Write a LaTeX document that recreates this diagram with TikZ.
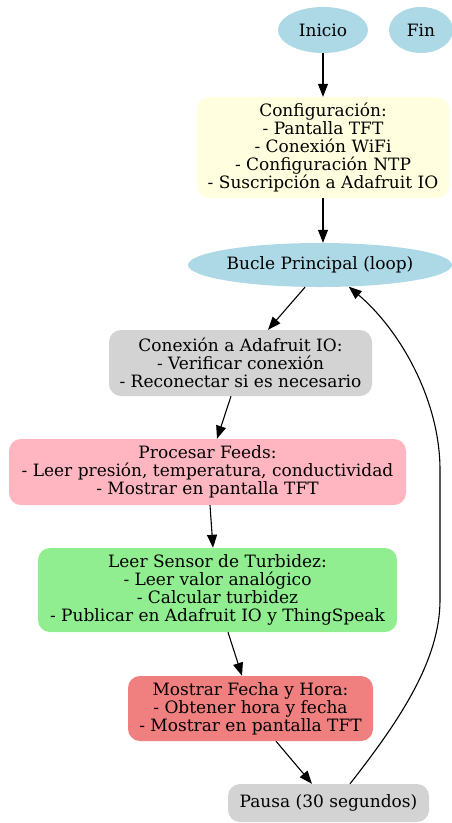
\documentclass[tikz,border=0pt]{standalone}
\usepackage{fontspec}
\setmainfont{DejaVu Serif}
\usetikzlibrary{arrows.meta,shapes.geometric}

\definecolor{lblue}{RGB}{173,216,230}
\definecolor{lyellow}{RGB}{255,255,224}
\definecolor{lgray}{RGB}{211,211,211}
\definecolor{lpink}{RGB}{255,182,193}
\definecolor{lgreen}{RGB}{144,238,144}
\definecolor{lcoral}{RGB}{240,128,128}

\begin{document}
\begin{tikzpicture}[x=1pt,y=-1pt,
        every node/.style={font=\fontsize{17}{18}\selectfont, align=center, inner sep=0pt},
        oval/.style={ellipse, fill=lblue},
        box/.style={rectangle, rounded corners=12pt},
        flow/.style={-{Triangle[length=13pt,width=10pt]}, line width=1.1pt}]
        \useasboundingbox (0,0) rectangle (452,823);

        \node[oval, minimum width=90, minimum height=46] (inicio) at (323,30) {Inicio};
        \node[oval, minimum width=64, minimum height=46] (fin) at (421,30) {Fin};

        \node[box, fill=lyellow, minimum width=252, minimum height=101] (config) at (323,147.5)
            {Configuración:\\- Pantalla TFT\\- Conexión WiFi\\- Configuración NTP\\- Suscripción a Adafruit IO};

        \node[oval, minimum width=264, minimum height=44] (bucle) at (320,265) {Bucle Principal (loop)};

        \node[box, fill=lgray, minimum width=263, minimum height=66] (conex) at (240.5,363)
            {Conexión a Adafruit IO:\\- Verificar conexión\\- Reconectar si es necesario};

        \node[box, fill=lpink, minimum width=397, minimum height=66] (feeds) at (207.5,472)
            {Procesar Feeds:\\- Leer presión, temperatura, conductividad\\- Mostrar en pantalla TFT};

        \node[box, fill=lgreen, minimum width=359, minimum height=84] (sensor) at (217.5,590)
            {Leer Sensor de Turbidez:\\- Leer valor analógico\\- Calcular turbidez\\- Publicar en Adafruit IO y ThingSpeak};

        \node[box, fill=lcoral, minimum width=245, minimum height=65] (fecha) at (250.5,708.5)
            {Mostrar Fecha y Hora:\\- Obtener hora y fecha\\- Mostrar en pantalla TFT};

        \node[box, fill=lgray, minimum width=201, minimum height=38] (pausa) at (328.5,803) {Pausa (30 segundos)};

        \coordinate (ret1) at (440,600);
        \coordinate (ret2) at (440,470);

        \draw[flow] (inicio) -- (config);
        \draw[flow] (config.south) -- (config.south |- bucle.north);
        \draw[flow] ([xshift=-15pt]bucle.south) -- ([xshift=27.5pt]conex.north);
        \draw[flow] ([xshift=-9.5pt]conex.south) -- ([xshift=9.5pt]feeds.north);
        \draw[flow] ([xshift=2.5pt]feeds.south) -- ([xshift=-4.5pt]sensor.north);
        \draw[flow] ([xshift=10.5pt]sensor.south) -- ([xshift=-8.5pt]fecha.north);
        \draw[flow] ([xshift=25.5pt]fecha.south) -- ([xshift=-16.5pt]pausa.north);
        \draw[flow] ([xshift=21.5pt]pausa.north) .. controls (400,720) and (440,660) .. (ret1)
            -- (ret2) .. controls (440,400) and (400,330) .. (bucle.-37);
    \end{tikzpicture}
\end{document}
